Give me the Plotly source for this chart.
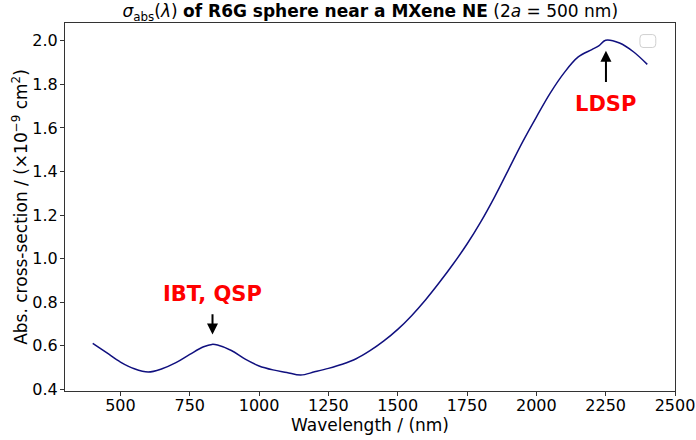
import plotly.graph_objects as go

wavelength_nm = [400, 450, 500, 550, 600, 650, 700, 750, 800, 830, 850, 900, 950,
                 1000, 1050, 1100, 1150, 1200, 1250, 1300, 1350, 1400, 1450, 1500,
                 1550, 1600, 1650, 1700, 1750, 1800, 1850, 1900, 1950, 2000, 2050,
                 2100, 2150, 2200, 2225, 2250, 2300, 2350, 2400]
sigma_abs = [0.611, 0.568, 0.525, 0.494, 0.479, 0.494, 0.522, 0.560, 0.595, 0.606,
             0.603, 0.578, 0.538, 0.507, 0.489, 0.477, 0.465, 0.480, 0.496, 0.515,
             0.540, 0.577, 0.622, 0.675, 0.738, 0.810, 0.890, 0.975, 1.067, 1.170,
             1.285, 1.410, 1.535, 1.650, 1.760, 1.853, 1.925, 1.960, 1.977, 2.003,
             1.990, 1.950, 1.892]

x_ticks = [500, 750, 1000, 1250, 1500, 1750, 2000, 2250, 2500]
y_ticks = [0.4, 0.6, 0.8, 1.0, 1.2, 1.4, 1.6, 1.8, 2.0]

# annotations: (label, x, text_y, arrow_tail_y, arrow_tip_y)
ann_labels = ["IBT, QSP", "LDSP"]
ann_x = [832, 2251]
ann_text_y = [0.837, 1.712]
ann_tail_y = [0.751, 1.804]
ann_tip_y = [0.652, 1.954]

FONT = "DejaVu Sans"

fig = go.Figure()
fig.add_trace(go.Scatter(
    x=wavelength_nm, y=sigma_abs, mode="lines",
    line=dict(color="#10107f", width=1.5, shape="spline", smoothing=1.0),
    showlegend=False, hoverinfo="skip"))

annotations = []
for lab, xx, ty, tail, tip in zip(ann_labels, ann_x, ann_text_y, ann_tail_y, ann_tip_y):
    annotations.append(dict(x=xx, y=ty, xref="x", yref="y", text=f"<b>{lab}</b>",
                            showarrow=False, font=dict(family=FONT, size=21, color="#ff0000"),
                            xanchor="center", yanchor="middle"))
    annotations.append(dict(x=xx, y=tip, ax=xx, ay=tail, xref="x", yref="y",
                            axref="x", ayref="y", text="", showarrow=True,
                            arrowhead=2, arrowsize=1.1, arrowwidth=2, arrowcolor="black"))

fig.update_layout(
    width=696, height=440,
    margin=dict(l=65, r=21, t=23, b=49, autoexpand=False),
    paper_bgcolor="white", plot_bgcolor="white",
    font=dict(family=FONT, size=16, color="black"),
    title=dict(
        text="<i>σ</i><sub>abs</sub>(<i>λ</i>) <b>of R6G sphere near a MXene NE</b> (2<i>a</i> = 500 nm)",
        x=0.532, xanchor="center", y=0.975, yanchor="middle", yref="container",
        font=dict(family=FONT, size=17, color="black")),
    xaxis=dict(range=[300, 2500], tickvals=x_ticks, ticktext=[str(v) for v in x_ticks],
               showgrid=False, zeroline=False, showline=True, linecolor="#333333",
               linewidth=1, mirror=True, ticks="outside", ticklen=4, tickcolor="#333333",
               tickfont=dict(size=16), ticklabelstandoff=-4,
               title=dict(text="Wavelength / (nm)", font=dict(size=17), standoff=0)),
    yaxis=dict(range=[0.392, 2.082], tickvals=y_ticks, ticktext=[f"{v:.1f}" for v in y_ticks],
               showgrid=False, zeroline=False, showline=True, linecolor="#333333",
               linewidth=1, mirror=True, ticks="outside", ticklen=4, tickcolor="#333333",
               tickfont=dict(size=16), ticklabelstandoff=-1,
               title=dict(text="Abs. cross-section / (×10<sup>−9</sup> cm<sup>2</sup>)",
                          font=dict(size=17), standoff=0)),
    annotations=annotations,
    shapes=[dict(type="path", xref="paper", yref="paper",
                 path="M 0.9475,0.9685 L 0.9635,0.9685 Q 0.9685,0.9685 0.9685,0.9585 "
                      "L 0.9685,0.9435 Q 0.9685,0.9335 0.9635,0.9335 L 0.9475,0.9335 "
                      "Q 0.9425,0.9335 0.9425,0.9435 L 0.9425,0.9585 Q 0.9425,0.9685 0.9475,0.9685 Z",
                 line=dict(color="#d0d0d0", width=1), fillcolor="white")],
)

fig.write_html("out.html", config={"displayModeBar": False},
               post_script="document.body.style.margin='0';document.body.style.overflow='hidden';")
